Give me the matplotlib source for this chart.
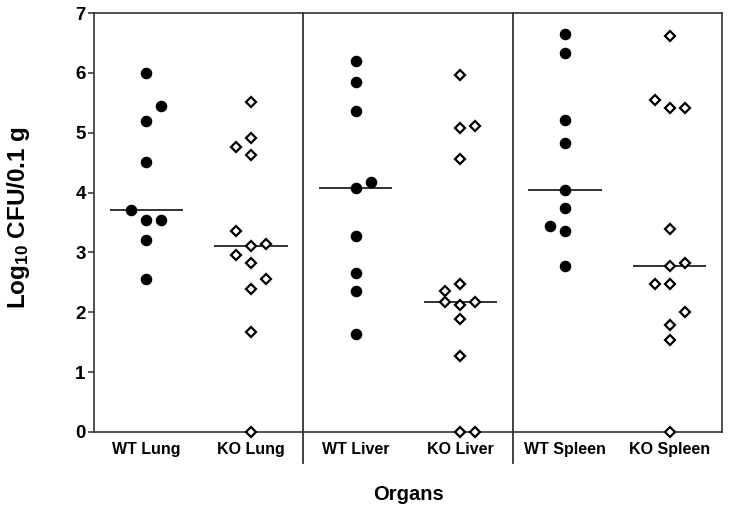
import numpy as np
import matplotlib
matplotlib.use("Agg")
import matplotlib.pyplot as plt

plt.rcParams["font.family"] = ["Liberation Sans", "DejaVu Sans"]
plt.rcParams["font.weight"] = "bold"
plt.rcParams["mathtext.fontset"] = "custom"
plt.rcParams["mathtext.rm"] = "Liberation Sans:bold"
plt.rcParams["mathtext.bf"] = "Liberation Sans:bold"
plt.rcParams["mathtext.default"] = "rm"

groups = ["WT Lung", "KO Lung", "WT Liver", "KO Liver", "WT Spleen", "KO Spleen"]

wt_lung = [6.00, 5.45, 5.20, 4.51, 3.71, 3.54, 3.54, 3.20, 2.55]
ko_lung = [5.51, 4.92, 4.76, 4.63, 3.36, 3.11, 3.14, 2.95, 2.83, 2.55, 2.39, 1.67, 0.00]
wt_liver = [6.19, 5.84, 5.37, 4.17, 4.07, 3.28, 2.65, 2.36, 1.63]
ko_liver = [5.96, 5.08, 5.11, 4.56, 2.48, 2.36, 2.18, 2.13, 2.18, 1.88, 1.27, 0.00, 0.00]
wt_spleen = [6.65, 6.33, 5.21, 4.82, 4.05, 3.75, 3.44, 3.36, 2.78]
ko_spleen = [6.62, 5.55, 5.41, 5.42, 3.39, 2.82, 2.78, 2.47, 2.47, 2.00, 1.79, 1.53, 0.00]

# column of each dot in the scatter (-1 left, 0 centre, +1 right)
wt_lung_side = [0, 1, 0, 0, -1, 0, 1, 0, 0]
ko_lung_side = [0, 0, -1, 0, -1, 0, 1, -1, 0, 1, 0, 0, 0]
wt_liver_side = [0, 0, 0, 1, 0, 0, 0, 0, 0]
ko_liver_side = [0, 0, 1, 0, 0, -1, -1, 0, 1, 0, 0, 0, 1]
wt_spleen_side = [0, 0, 0, 0, 0, 0, -1, 0, 0]
ko_spleen_side = [0, -1, 0, 1, 0, 1, 0, -1, 0, 1, 0, 0, 0]

values = [wt_lung, ko_lung, wt_liver, ko_liver, wt_spleen, ko_spleen]
sides = [wt_lung_side, ko_lung_side, wt_liver_side, ko_liver_side, wt_spleen_side, ko_spleen_side]

fig = plt.figure(figsize=(7.29, 5.11), dpi=100)
ax = fig.add_axes([94 / 729, 1 - 432 / 511, 628 / 729, 419 / 511])

step = 0.143
for i, (vals, side) in enumerate(zip(values, sides)):
    pos = i + 1
    xs = pos + step * np.array(side)
    if i % 2 == 0:
        ax.plot(xs, vals, "o", color="black", markersize=7.3, clip_on=False, zorder=3)
    else:
        ax.plot(xs, vals, "D", markerfacecolor="white", markeredgecolor="black",
                markersize=5.0, markeredgewidth=1.6, clip_on=False, zorder=3)
    med = np.median(vals)
    ax.plot([pos - 0.34, pos + 0.34], [med, med], color="#333333", linewidth=1.4, zorder=2)

# group dividers, running a little below the axis
for xd in [2.5, 4.5]:
    ax.plot([xd, xd], [-0.074, 1], color="#333333", linewidth=1.3,
            transform=ax.get_xaxis_transform(), clip_on=False)

ax.set_xlim(0.5, 6.5)
ax.set_ylim(0, 7)
ax.set_xticks(range(1, 7))
ax.set_xticklabels(groups, fontsize=11.5, fontweight="bold")
ax.tick_params(axis="x", length=0, pad=7)
ax.set_yticks(range(0, 8))
ax.tick_params(axis="y", length=4, width=1.1, pad=2, labelsize=13.5, color="#333333")
for lab in ax.get_yticklabels():
    lab.set_fontweight("bold")
for sp in ax.spines.values():
    sp.set_linewidth(1.2)
    sp.set_color("#333333")

fig.text(19 / 729, 1 - 217 / 511, r"Log$_{10}$ CFU/0.1 g", rotation=90,
         ha="center", va="center", fontsize=17.5, fontweight="bold")
fig.text(408 / 729, 1 - 494 / 511, "Organs", ha="center", va="center",
         fontsize=14.5, fontweight="bold")

fig.savefig("out.png", dpi=100)
